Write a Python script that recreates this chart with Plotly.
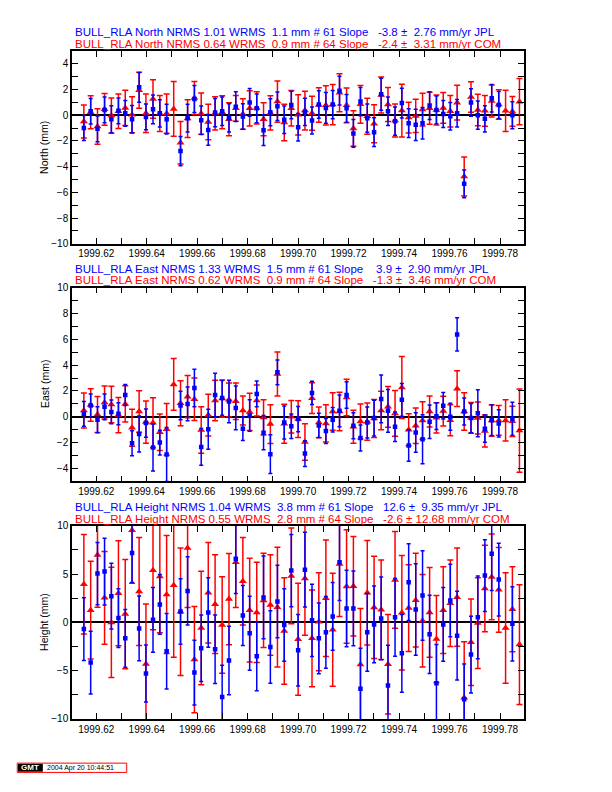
import plotly.graph_objects as go

# ---------------- data (decimal year, daily solutions) ----------------
dates = [1999.6151, 1999.6178, 1999.6205, 1999.6233, 1999.6260, 1999.6288, 1999.6315, 1999.6342,
         1999.6370, 1999.6397, 1999.6425, 1999.6452, 1999.6479, 1999.6507, 1999.6534, 1999.6562,
         1999.6589, 1999.6616, 1999.6644, 1999.6671, 1999.6699, 1999.6726, 1999.6753, 1999.6781,
         1999.6808, 1999.6836, 1999.6863, 1999.6890, 1999.6918, 1999.6945, 1999.6973, 1999.7000,
         1999.7027, 1999.7055, 1999.7082, 1999.7110, 1999.7137, 1999.7164, 1999.7192, 1999.7219,
         1999.7247, 1999.7274, 1999.7301, 1999.7329, 1999.7356, 1999.7384, 1999.7411, 1999.7438,
         1999.7466, 1999.7493, 1999.7521, 1999.7548, 1999.7575, 1999.7603, 1999.7630, 1999.7658,
         1999.7685, 1999.7712, 1999.7740, 1999.7767, 1999.7795, 1999.7822, 1999.7849, 1999.7877]

# COM (red) series
north_com = [-0.49, 0.23, -0.88, 0.46, -0.03, 0.31, 0.57, 0.03, 1.94, 0.15, 1.26, 0.13, 0.13, 0.49, -2.14, -0.26,
             1.34, 0.13, -0.52, 0.15, 0.23, -0.31, 0.54, 0.10, 0.54, 0.57, -0.31, 0.18, 1.06, -0.57, 0.54, 0.03,
             0.36, 0.15, 0.80, 0.77, 0.83, 1.75, 0.77, -1.03, 0.85, -0.08, -0.67, 1.57, 0.83, -0.41, 0.36, -0.18,
             -0.05, 0.44, 0.54, 0.41, 0.57, 0.31, 0.98, -4.77, 1.42, 0.41, 0.34, 1.11, 0.83, 0.34, 0.30, 1.05]
north_com_err = [1.28, 1.28, 1.38, 1.24, 1.38, 1.34, 1.37, 1.40, 1.40, 1.50, 1.50, 1.40, 1.53, 2.13, 1.65, 1.47,
                 1.29, 1.61, 1.38, 1.29, 1.28, 1.28, 1.00, 1.19, 1.37, 1.25, 1.29, 1.33, 1.60, 1.42, 1.38, 1.57,
                 1.50, 1.32, 1.34, 1.53, 1.57, 1.47, 1.35, 1.38, 1.47, 1.40, 1.48, 1.40, 1.32, 1.29, 2.05, 1.20,
                 1.29, 1.28, 1.24, 1.17, 1.20, 1.22, 1.35, 1.51, 1.19, 1.23, 1.19, 1.25, 1.15, 1.60, 1.15, 1.80]
east_com = [0.49, 0.92, 0.18, 1.10, 0.95, 0.13, 1.00, -0.85, 0.41, -0.41, -0.46, -1.20, -0.97, 2.51, 1.05, 1.56,
            1.36, -1.03, 0.13, 1.26, 1.41, 1.31, 1.20, 0.49, 0.38, 1.26, -0.05, -0.56, 3.31, -0.54, 0.00, -0.18,
            -1.95, 1.44, -0.44, -0.51, 0.41, 0.41, 1.49, -0.77, -0.36, -0.38, -0.13, 0.49, 0.77, 0.26, 2.26, -1.00,
            -0.69, -0.28, 0.41, -0.08, 0.44, -0.26, 2.18, 0.41, -0.08, -0.10, -1.10, -0.28, -0.28, -0.28, -0.35, -1.07]
east_com_err = [1.35, 1.26, 1.40, 1.28, 1.42, 1.36, 1.41, 1.44, 1.60, 1.64, 1.94, 1.42, 2.00, 2.00, 1.74, 1.63,
                1.64, 1.80, 1.62, 1.56, 1.44, 1.31, 1.41, 1.12, 1.45, 1.20, 1.36, 1.50, 1.70, 1.51, 1.26, 1.42,
                1.41, 1.19, 1.19, 1.45, 1.46, 1.49, 1.41, 1.28, 1.36, 1.44, 1.47, 1.49, 1.58, 1.77, 2.40, 1.24,
                1.37, 1.45, 1.20, 1.17, 1.15, 1.20, 1.38, 1.45, 1.19, 1.24, 1.24, 1.22, 1.15, 1.60, 1.17, 3.22]
height_com = [3.95, 1.27, 6.98, 2.54, 0.00, 3.02, 0.86, 9.55, 3.20, -4.30, 5.40, 4.74, 2.89, 3.85, 1.10, 7.70,
              -3.85, -0.58, 3.06, 1.89, -0.27, 2.41, 6.22, 4.26, 1.27, 1.03, 2.27, 1.79, 1.58, -0.89, 4.81, -1.75,
              4.54, -1.65, 0.07, 2.51, -0.76, 6.05, 3.71, 3.75, -4.36, 3.06, 1.55, 1.31, -4.33, 4.40, 1.00, 1.48,
              2.30, 0.17, 1.03, -1.72, 1.27, 1.99, 2.61, -7.80, -2.06, -0.07, 3.51, 4.71, 3.37, -0.58, 1.35, -2.30]
height_com_err = [5.14, 5.07, 5.40, 4.80, 5.70, 5.43, 5.65, 5.50, 5.60, 6.20, 6.15, 5.80, 6.10, 7.45, 6.60, 6.15,
                  5.50, 5.88, 5.20, 5.10, 5.00, 4.72, 4.67, 4.52, 5.36, 5.19, 4.88, 5.20, 6.19, 5.50, 4.95, 5.80,
                  5.88, 5.00, 5.08, 6.03, 5.86, 5.43, 5.88, 5.15, 5.80, 5.41, 5.30, 5.15, 5.15, 5.00, 5.93, 4.50,
                  4.85, 4.80, 4.64, 4.50, 4.48, 4.48, 5.08, 5.80, 4.48, 4.69, 4.48, 4.43, 4.38, 5.72, 4.40, 6.20]

# JPL (blue) series (None = no solution that day)
north_jpl = [-1.00, 0.31, -1.06, 0.41, -0.31, 0.34, 0.15, -0.31, 2.17, -0.13, 0.46, 0.15, -0.31, None, -2.79, -0.23,
             1.26, -0.39, -1.14, 0.21, 0.31, -0.21, 0.67, -0.10, 1.00, 0.54, -1.16, 0.23, 0.70, -0.36, 0.80, -0.93,
             0.26, -0.41, 0.83, 0.57, 0.83, 1.91, 0.54, -1.42, 1.06, -0.23, -1.32, 1.63, 0.31, -0.46, 0.95, -0.62,
             -0.75, -0.62, 0.75, 0.41, 0.10, -0.08, 0.15, -5.34, 1.00, 0.00, -0.28, 1.32, 0.80, None, 0.00, None]
north_jpl_err = [0.97, 1.00, 1.00, 1.00, 1.05, 1.00, 1.00, 1.07, 1.15, 1.00, 1.12, 1.06, 1.16, None, 1.14, 1.08,
                 1.05, 1.10, 1.19, 1.10, 1.10, 1.10, 1.15, 1.00, 1.08, 1.12, 1.19, 1.05, 1.10, 1.07, 1.07, 1.07,
                 1.06, 1.05, 1.07, 1.20, 1.10, 1.12, 1.08, 1.08, 1.10, 1.10, 1.12, 1.24, 1.10, 1.10, 1.16, 1.12,
                 1.21, 1.22, 1.08, 1.08, 1.05, 1.07, 1.07, 1.08, 1.07, 1.10, 1.02, 1.07, 1.05, None, 1.05, None]
east_jpl = [0.23, 0.87, -0.23, 0.77, 0.38, 0.23, 1.69, -2.05, -1.33, -0.49, -2.38, -2.00, -2.92, None, 0.87, 1.00,
            2.23, -2.33, -0.97, 1.69, 1.46, 1.18, 0.69, -0.92, 0.10, 1.77, -1.23, -2.90, 3.44, -0.44, -0.74, -0.18,
            -2.85, 1.85, -0.67, -1.10, -0.23, 0.46, 1.69, -0.69, -1.64, -0.44, -0.10, 1.38, 0.46, -0.77, 1.31, -2.23,
            -1.21, -1.74, -0.38, 0.05, 0.85, 0.00, 6.38, 0.41, -0.10, 0.28, -0.92, -0.26, -0.51, None, -0.15, None]
east_jpl_err = [0.96, 0.90, 1.00, 1.00, 0.92, 0.85, 0.82, 0.96, 1.40, 1.10, 1.82, 0.95, 2.10, None, 1.10, 1.30,
                1.46, 1.42, 1.55, 1.68, 1.35, 1.64, 1.70, 0.92, 1.22, 1.00, 1.33, 1.50, 0.96, 1.28, 0.95, 0.97,
                0.99, 0.90, 0.94, 0.97, 0.95, 1.23, 1.03, 1.01, 1.00, 1.20, 1.38, 1.85, 1.65, 1.14, 1.27, 1.22,
                1.53, 1.90, 1.30, 1.04, 1.03, 1.05, 1.28, 1.04, 1.13, 1.82, 1.05, 1.18, 1.06, None, 1.28, None]
height_jpl = [-0.69, -4.16, 5.05, 5.26, 2.71, 0.45, -1.65, 7.18, -0.62, -5.29, 0.27, 1.86, -2.99, None, 1.13, 3.26,
              -5.19, -2.68, 1.03, -2.78, -7.73, -3.95, 6.60, 0.72, -1.13, -3.50, 2.58, -2.54, 2.16, -0.27, 5.36, -2.89,
              5.46, 0.21, -1.65, -1.03, 0.62, 6.22, 1.44, 1.44, -6.87, -1.03, -0.21, 0.41, -6.53, 0.52, -3.20, 4.16,
              1.34, 2.78, -1.24, -6.29, -0.21, 2.27, -1.37, -7.95, -3.33, 0.52, 4.85, 7.11, 4.43, None, -0.15, None]
height_jpl_err = [3.25, 3.25, 3.23, 3.45, 3.40, 3.04, 2.99, 3.05, 3.35, 2.94, 3.35, 3.10, 3.90, None, 3.40, 3.54,
                  3.35, 3.45, 3.60, 3.55, 3.30, 3.55, 3.60, 3.10, 3.83, 3.57, 4.28, 3.75, 3.76, 3.75, 3.75, 3.70,
                  3.86, 3.75, 3.66, 3.71, 3.50, 3.95, 3.97, 3.87, 4.20, 4.02, 3.97, 4.28, 4.16, 4.02, 4.02, 3.97,
                  4.74, 4.64, 4.04, 4.00, 3.81, 3.76, 4.59, 3.65, 3.97, 4.28, 3.71, 3.80, 3.76, None, 3.85, None]

titles_jpl = ["BULL_RLA North NRMS 1.01 WRMS  1.1 mm # 61 Slope   -3.8 \u00b1  2.76 mm/yr JPL",
              "BULL_RLA East NRMS 1.33 WRMS  1.5 mm # 61 Slope    3.9 \u00b1  2.90 mm/yr JPL",
              "BULL_RLA Height NRMS 1.04 WRMS  3.8 mm # 61 Slope   12.6 \u00b1  9.35 mm/yr JPL"]
titles_com = ["BULL_RLA North NRMS 0.64 WRMS  0.9 mm # 64 Slope   -2.4 \u00b1  3.31 mm/yr COM",
              "BULL_RLA East NRMS 0.62 WRMS  0.9 mm # 64 Slope   -1.3 \u00b1  3.46 mm/yr COM",
              "BULL_RLA Height NRMS 0.55 WRMS  2.8 mm # 64 Slope   -2.6 \u00b1 12.68 mm/yr COM"]
ylabels = ["North (mm)", "East (mm)", "Height (mm)"]
y_ranges = [[-10, 5], [-5, 10], [-10, 10]]
y_dticks = [2, 2, 5]
y_minor = [1, 1, 2.5]
x_range = [1999.6104, 1999.7895]
stamp_text = "2004 Apr 20 10:44:51"

# ---------------- layout geometry (page pixels; the page body adds an 8 px offset) ----------------
OFF = 8.0
W, H = 612, 792
L, R = 71.5 - OFF, 524.0 - OFF
TOP, BOT = 50.5 - OFF, 719.5 - OFF
panels_px = [(50.5, 243.5), (287.5, 481.5), (526.0, 719.5)]
FONT = "Liberation Sans, Arial, Helvetica, sans-serif"


def px_x(px):
    return (px - OFF - L) / (R - L)


def px_y(py):
    return (BOT - (py - OFF)) / (BOT - TOP)


fig = go.Figure()
series = [(north_com, north_com_err, north_jpl, north_jpl_err),
          (east_com, east_com_err, east_jpl, east_jpl_err),
          (height_com, height_com_err, height_jpl, height_jpl_err)]

annotations = []
for i, (c, ce, j, je) in enumerate(series):
    xa = "x" if i == 0 else f"x{i+1}"
    ya = "y" if i == 0 else f"y{i+1}"
    fig.add_trace(go.Scatter(
        x=dates, y=c, mode="markers", xaxis=xa, yaxis=ya, showlegend=False,
        marker=dict(symbol="triangle-up", size=7, color="#ff0000", line=dict(width=0)),
        error_y=dict(type="data", array=ce, color="#ff0000", thickness=1.5, width=3)))
    bx = [d for d, v in zip(dates, j) if v is not None]
    by = [v for v in j if v is not None]
    be = [e for e in je if e is not None]
    fig.add_trace(go.Scatter(
        x=bx, y=by, mode="markers", xaxis=xa, yaxis=ya, showlegend=False,
        marker=dict(symbol="square", size=4.5, color="#0000ff", line=dict(width=0)),
        error_y=dict(type="data", array=be, color="#0000ff", thickness=1.5, width=2)))

    top, bot = panels_px[i]
    axis_common = dict(showline=True, linecolor="black", linewidth=1.5, mirror="allticks",
                       ticks="inside", ticklen=6, tickwidth=1, tickcolor="black",
                       showgrid=False, tickfont=dict(family=FONT, size=10, color="black"))
    fig.layout[("xaxis" if i == 0 else f"xaxis{i+1}")] = dict(
        domain=[0, 1], anchor=ya, range=x_range, tick0=1999.62, dtick=0.02, tickformat=".2f",
        zeroline=False,
        minor=dict(dtick=0.01, tick0=1999.62, ticks="inside", ticklen=6, tickwidth=1, tickcolor="black"),
        **axis_common)
    fig.layout[("yaxis" if i == 0 else f"yaxis{i+1}")] = dict(
        domain=[px_y(bot), px_y(top)], anchor=xa, range=y_ranges[i], tick0=0, dtick=y_dticks[i],
        zeroline=True, zerolinecolor="black", zerolinewidth=1.5,
        minor=dict(dtick=y_minor[i], tick0=0, ticks="inside", ticklen=6, tickwidth=1, tickcolor="black"),
        **axis_common)

    annotations.append(dict(text=titles_jpl[i], xref="paper", yref="paper", x=px_x(72.5), y=px_y(top - 18.8),
                            xanchor="left", yanchor="middle", showarrow=False,
                            font=dict(family=FONT, size=11.5, color="#0000ff")))
    annotations.append(dict(text=titles_com[i], xref="paper", yref="paper", x=px_x(72.5), y=px_y(top - 7.2),
                            xanchor="left", yanchor="middle", showarrow=False,
                            font=dict(family=FONT, size=11.5, color="#ff0000")))
    annotations.append(dict(text=ylabels[i], xref="paper", yref="paper", x=px_x(44), y=px_y((top + bot) / 2),
                            xanchor="center", yanchor="middle", textangle=-90, showarrow=False,
                            font=dict(family=FONT, size=10.5, color="black")))

# GMT time stamp
annotations.append(dict(text="<b>GMT</b>", xref="paper", yref="paper", x=px_x(29.8), y=px_y(768.4),
                        xanchor="center", yanchor="middle", showarrow=False,
                        font=dict(family=FONT, size=8, color="white")))
annotations.append(dict(text=stamp_text, xref="paper", yref="paper", x=px_x(44.5), y=px_y(768.4),
                        xanchor="left", yanchor="middle", showarrow=False,
                        font=dict(family=FONT, size=7, color="black")))
shapes = [
    dict(type="rect", xref="paper", yref="paper", x0=px_x(17.3), x1=px_x(42.3), y0=px_y(772.3), y1=px_y(764.3),
         fillcolor="black", line=dict(width=0)),
    dict(type="rect", xref="paper", yref="paper", x0=px_x(16.7), x1=px_x(126.3), y0=px_y(773.0), y1=px_y(763.7),
         fillcolor="rgba(0,0,0,0)", line=dict(color="#ff0000", width=1)),
]

fig.update_layout(width=W, height=H, margin=dict(l=L, r=W - R, t=TOP, b=H - BOT, pad=0),
                  plot_bgcolor="white", paper_bgcolor="white", showlegend=False,
                  annotations=annotations, shapes=shapes,
                  font=dict(family=FONT, size=10, color="black"))

fig.write_html("out.html")
